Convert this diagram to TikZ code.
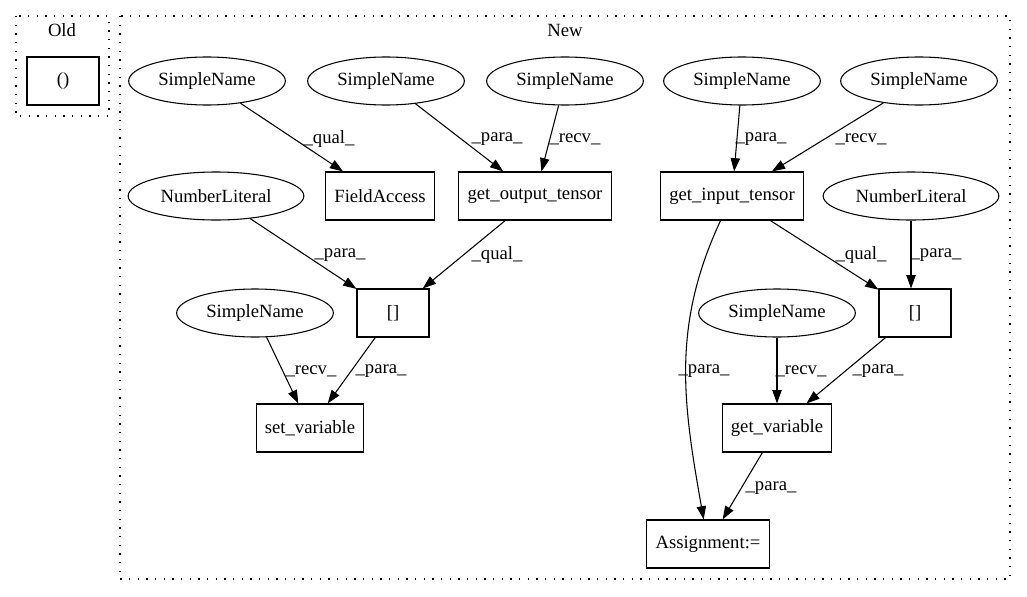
\documentclass[tikz,border=0pt]{standalone}
\usepackage{fontspec}
\setmainfont{Liberation Serif}
\usepackage{tikz}
\usetikzlibrary{arrows.meta}
\usetikzlibrary{shapes.geometric}
\usetikzlibrary{positioning}
\tikzset{box/.style = {draw, rectangle, line width = 0.8pt, minimum width = 54pt, minimum height = 36pt, inner xsep = 6.5pt, font = \fontsize{14}{16}\selectfont}}
\tikzset{oval/.style = {draw, ellipse, line width = 0.8pt, minimum width = 116pt, minimum height = 36pt, inner xsep = 5pt, font = \fontsize{14}{16}\selectfont}}
\tikzset{edge/.style = {-{Triangle[length = 10pt, width = 7pt]}, line width = 0.8pt}}
\tikzset{lbl/.style = {inner sep = 0, font = \fontsize{14}{16}\selectfont}}
\tikzset{cluster/.style = {line width = 1pt, dash pattern = on 1pt off 5.5pt}}

\begin{document}
\begin{tikzpicture}[x = 0.75pt, y = -0.75pt]

       \useasboundingbox (0, 0) rectangle (1027, 596);

       % clusters
       \draw [cluster] (16, 16) rectangle (109, 116);
       \node [lbl] (old) at (62, 30) {Old};
       \draw [cluster] (120, 16) rectangle (1010, 579);
       \node [lbl] (new) at (565, 30) {New};

       \node [box] (paren) at (63, 81) {()};

       % first row
       \node [oval] (sn1) at (207, 81) {SimpleName};
       \node [oval] (sn2) at (386, 81) {SimpleName};
       \node [oval] (sn3) at (565, 81) {SimpleName};
       \node [oval] (sn4) at (742, 81) {SimpleName};
       \node [oval] (sn5) at (919, 81) {SimpleName};

       % second row
       \node [oval, minimum width = 128pt] (nl1) at (216, 196) {NumberLiteral};
       \node [box] (fa) at (380, 196) {FieldAccess};
       \node [box] (got) at (535, 196) {get\_output\_tensor};
       \node [box] (git) at (732, 196) {get\_input\_tensor};
       \node [oval, minimum width = 128pt] (nl2) at (911, 196) {NumberLiteral};

       % third row
       \node [oval] (sn6) at (255, 313) {SimpleName};
       \node [box] (idxl) at (393, 313) {[]};
       \node [oval] (sn7) at (777, 313) {SimpleName};
       \node [box] (idxr) at (915, 313) {[]};

       \node [box] (setvar) at (310, 428) {set\_variable};
       \node [box] (getvar) at (777, 428) {get\_variable};
       \node [box] (asg) at (708, 544) {Assignment:=};

       \draw [edge] (sn1) -- (fa);
       \draw [edge] (sn2) -- (got);
       \draw [edge] (sn3) -- (got);
       \draw [edge] (sn4) -- (git);
       \draw [edge] (sn5) -- (git);
       \draw [edge] (nl1) -- (idxl);
       \draw [edge] (got) -- (idxl);
       \draw [edge] (git) -- (idxr);
       \draw [edge] (nl2.south) -- (idxr.north -| nl2.south);
       \draw [edge] (sn6) -- (setvar);
       \draw [edge] (idxl) -- (setvar);
       \draw [edge] (git) to [out = 245, in = 100] (asg);
       \draw [edge] (sn7) -- (getvar);
       \draw [edge] (idxr) -- (getvar);
       \draw [edge] (getvar) -- (asg);

       \node [lbl] at (329, 139) {\_qual\_};
       \node [lbl] at (497, 139) {\_para\_};
       \node [lbl] at (575, 139) {\_recv\_};
       \node [lbl] at (761, 139) {\_para\_};
       \node [lbl] at (861, 139) {\_recv\_};
       \node [lbl] at (340, 255) {\_para\_};
       \node [lbl] at (497, 255) {\_qual\_};
       \node [lbl] at (861, 255) {\_qual\_};
       \node [lbl] at (936, 255) {\_para\_};
       \node [lbl] at (311, 371) {\_recv\_};
       \node [lbl] at (381, 371) {\_para\_};
       \node [lbl] at (704, 371) {\_para\_};
       \node [lbl] at (801, 371) {\_recv\_};
       \node [lbl] at (878, 371) {\_para\_};
       \node [lbl] at (771, 488) {\_para\_};
    \end{tikzpicture}
\end{document}
